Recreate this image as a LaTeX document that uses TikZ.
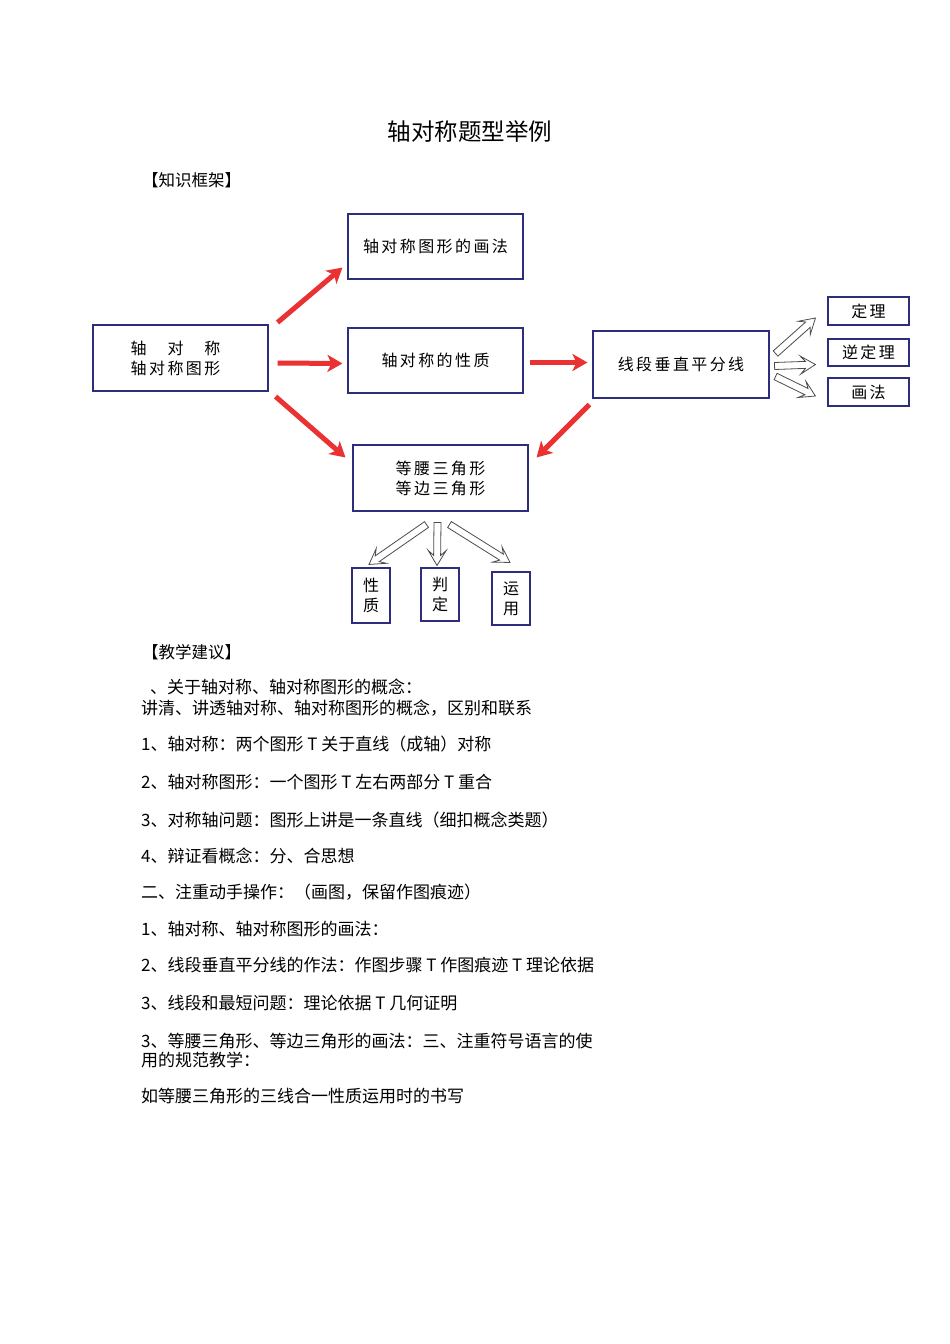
\documentclass[tikz,border=0pt]{standalone}
\usepackage{fontspec}
\setmainfont{Noto Sans CJK SC}
\newfontfamily\boxfont[LetterSpace=15]{Noto Sans CJK SC}
\usetikzlibrary{arrows.meta,calc}
\definecolor{boxblue}{RGB}{45,45,125}
\definecolor{arrowred}{RGB}{235,50,50}
% block (hollow) arrow between two named coordinates
\newcommand\blkarrow[2]{%
  \path ($(#2)!15pt!(#1)$) coordinate (#1ba) ($(#2)!10pt!(#1)$) coordinate (#1bb);
  \draw[hollowarrow] ($(#1)!3.5pt!90:(#2)$) -- ($(#1bb)!3.5pt!90:(#2)$)
    -- ($(#1ba)!9pt!90:(#2)$) -- (#2) -- ($(#1ba)!9pt!-90:(#2)$)
    -- ($(#1bb)!3.5pt!-90:(#2)$) -- ($(#1)!3.5pt!-90:(#2)$) -- cycle;}
\begin{document}
\begin{tikzpicture}[x=1pt,y=-1pt,
  box/.style={draw=boxblue, line width=1.1pt, inner sep=0pt, align=center,
    font=\boxfont\fontsize{16}{20}\selectfont},
  redarrow/.style={draw=arrowred, line width=5pt,
    -{Stealth[length=15pt,width=17pt,inset=4pt]}},
  hollowarrow/.style={draw=black!70, line width=0.8pt, fill=white, line join=miter},
  txt/.style={anchor=west, inner sep=0pt, font=\fontsize{17}{20}\selectfont}
]
\fill[white] (0,0) rectangle (950,1344);
\useasboundingbox (0,0) rectangle (950,1344);

% title and headings
\node[inner sep=0pt, font=\fontsize{23.5}{26}\selectfont] (title) at (470,132) {轴对称题型举例};
\node[txt, font=\fontsize{16.5}{20}\selectfont] (h1) at (142,180) {【知识框架】};
\node[txt, font=\fontsize{16.5}{20}\selectfont] (h2) at (142,652) {【教学建议】};

% boxes
\node[box, minimum width=175pt, minimum height=66pt] (A) at (180.5,358) {轴　对　称\hspace*{10pt}\\轴对称图形\hspace*{10pt}};
\node[box, minimum width=175pt, minimum height=65pt] (B) at (435.5,246.5) {轴对称图形的画法};
\node[box, minimum width=175pt, minimum height=65pt] (C) at (435.5,360.5) {轴对称的性质};
\node[box, minimum width=176pt, minimum height=67pt] (D) at (681,364.5) {线段垂直平分线};
\node[box, minimum width=175pt, minimum height=66pt] (E) at (440.5,478) {等腰三角形\\等边三角形};
\node[box, minimum width=81pt, minimum height=28pt] (T1) at (868.5,311) {定理};
\node[box, minimum width=81pt, minimum height=27pt] (T2) at (868.5,352.5) {逆定理};
\node[box, minimum width=81pt, minimum height=28pt] (T3) at (868.5,392) {画法};
\node[box, minimum width=38pt, minimum height=55pt] (P1) at (371,595.5) {性\\质};
\node[box, minimum width=38pt, minimum height=53pt] (P2) at (440,594.5) {判\\定};
\node[box, minimum width=38pt, minimum height=53pt] (P3) at (511,598.5) {运\\用};

% red arrows
\draw[redarrow] ($(A.north east)+(9,-2)$) -- ($(B.south west)+(-5,-12)$);
\draw[redarrow] ($(A.east)+(9,5)$) -- ($(C.west)+(-5,3)$);
\draw[redarrow] ($(A.south east)+(7,5)$) -- ($(E.north west)+(-7,13)$);
\draw[redarrow] ($(C.east)+(6,2)$) -- ($(D.west)+(-5,-2)$);
\draw[redarrow] ($(D.south west)+(-3,6)$) -- ($(E.north east)+(8,13)$);

% hollow arrows: free ends as named coordinates relative to the nodes
\coordinate (ha) at ($(D.east)+(6,-11)$);   \coordinate (hae) at ($(T1.west)+(-12,7)$);
\coordinate (hb) at ($(D.east)+(5,1.5)$);   \coordinate (hbe) at ($(T2.west)+(-12,12)$);
\coordinate (hc) at ($(D.east)+(6,12)$);    \coordinate (hce) at ($(T3.west)+(-12,4)$);
\coordinate (hd) at ($(E.south)+(-14,13)$); \coordinate (hde) at ($(P1.north)+(-2,-3)$);
\coordinate (he) at ($(E.south)+(-3,11)$);  \coordinate (hee) at ($(P2.north)+(-3,-2)$);
\coordinate (hf) at ($(E.south)+(9,13)$);   \coordinate (hfe) at ($(P3.north)+(-1,-9)$);
\blkarrow{ha}{hae}
\blkarrow{hb}{hbe}
\blkarrow{hc}{hce}
\blkarrow{hd}{hde}
\blkarrow{he}{hee}
\blkarrow{hf}{hfe}

% body text
\node[txt] (l1) at (150,687) {、关于轴对称、轴对称图形的概念：};
\node[txt] (l2) at (141,708) {讲清、讲透轴对称、轴对称图形的概念，区别和联系};
\node[txt] (l3) at (141,744) {1、轴对称：两个图形 T 关于直线（成轴）对称};
\node[txt] (l4) at (141,782) {2、轴对称图形：一个图形 T 左右两部分 T 重合};
\node[txt] (l5) at (141,820) {3、对称轴问题：图形上讲是一条直线（细扣概念类题）};
\node[txt] (l6) at (141,856) {4、辩证看概念：分、合思想};
\node[txt] (l7) at (141,892) {二、注重动手操作：（画图，保留作图痕迹）};
\node[txt] (l8) at (141,929) {1、轴对称、轴对称图形的画法：};
\node[txt] (l9) at (141,965) {2、线段垂直平分线的作法：作图步骤 T 作图痕迹 T 理论依据};
\node[txt] (l10) at (141,1003) {3、线段和最短问题：理论依据 T 几何证明};
\node[txt] (l11) at (141,1041) {3、等腰三角形、等边三角形的画法：三、注重符号语言的使};
\node[txt] (l12) at (141,1060) {用的规范教学：};
\node[txt] (l13) at (141,1096) {如等腰三角形的三线合一性质运用时的书写};
\end{tikzpicture}
\end{document}
